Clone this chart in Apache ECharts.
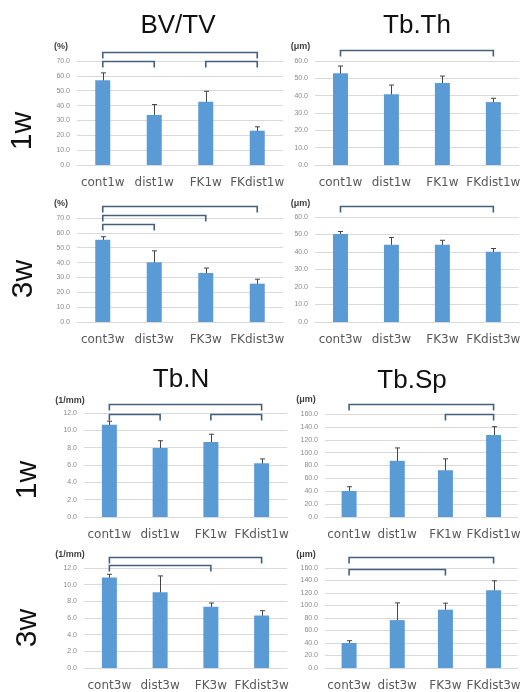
<!DOCTYPE html>
<html><head><meta charset="utf-8">
<script src="https://cdn.jsdelivr.net/npm/echarts@6/dist/echarts.min.js"></script>
<style>html,body{margin:0;padding:0;background:#fff}#c{width:523px;height:692px}</style>
</head><body><div id="c"></div>
<script>
// ---- data ----
const cats1w = ['cont1w', 'dist1w', 'FK1w', 'FKdist1w'];
const cats3w = ['cont3w', 'dist3w', 'FK3w', 'FKdist3w'];

const bvtv1wMean = [57.0, 33.7, 42.6, 23.1];
const bvtv1wErr  = [5.0, 7.0, 7.0, 2.6];
const bvtv3wMean = [55.4, 40.2, 33.0, 25.8];
const bvtv3wErr  = [2.0, 7.7, 3.3, 3.0];
const tbth1wMean = [52.9, 40.8, 47.3, 36.3];
const tbth1wErr  = [4.2, 5.3, 4.0, 2.2];
const tbth3wMean = [50.3, 44.2, 44.2, 40.1];
const tbth3wErr  = [1.4, 4.1, 2.5, 1.9];
const tbn1wMean  = [10.65, 7.95, 8.65, 6.2];
const tbn1wErr   = [0.4, 0.85, 0.9, 0.5];
const tbn3wMean  = [10.85, 9.1, 7.35, 6.3];
const tbn3wErr   = [0.4, 1.95, 0.45, 0.58];
const tbsp1wMean = [40.5, 87.3, 72.7, 127.3];
const tbsp1wErr  = [6.5, 20.0, 17.6, 13.0];
const tbsp3wMean = [40.1, 76.6, 93.3, 124.5];
const tbsp3wErr  = [3.6, 27.6, 10.4, 15.0];

// y axis ranges: [min, max, interval]
const bvtvAxis = [0, 70, 10];
const tbthAxis = [0, 60, 10];
const tbnAxis  = [0, 12, 2];
const tbspAxis = [0, 160, 20];

const bvtvUnit = '(%)';
const tbthUnit = '(μm)';
const tbnUnit  = '(1/mm)';
const tbspUnit = '(μm)';

// significance brackets: [fromIndex, toIndex, level]
const bvtv1wBrackets = [[0, 1, 0], [2, 3, 0], [0, 3, 1]];
const tbth1wBrackets = [[0, 3, 0]];
const bvtv3wBrackets = [[0, 1, 0], [0, 2, 1], [0, 3, 2]];
const tbth3wBrackets = [[0, 3, 0]];
const tbn1wBrackets  = [[0, 1, 0], [2, 3, 0], [0, 3, 1]];
const tbsp1wBrackets = [[2, 3, 0], [0, 3, 1]];
const tbn3wBrackets  = [[0, 2, 0], [0, 3, 1]];
const tbsp3wBrackets = [[0, 2, 0], [0, 3, 1]];

const panelTitles = ['BV/TV', 'Tb.Th', 'Tb.N', 'Tb.Sp'];
const rowLabels = ['1w', '3w', '1w', '3w'];

// ---- layout (style only) ----
const panels = [
  {cats: cats1w, mean: bvtv1wMean, err: bvtv1wErr, axis: bvtvAxis, unit: bvtvUnit, br: bvtv1wBrackets,
   left: 77, top: 61, width: 206, height: 104, bBase: 0, bStep: 9, unitShift: 32, unitGap: 10},
  {cats: cats1w, mean: tbth1wMean, err: tbth1wErr, axis: tbthAxis, unit: tbthUnit, br: tbth1wBrackets,
   left: 315, top: 61, width: 207, height: 104, bBase: -11, bStep: 9, unitShift: 29, unitGap: 10},
  {cats: cats3w, mean: bvtv3wMean, err: bvtv3wErr, axis: bvtvAxis, unit: bvtvUnit, br: bvtv3wBrackets,
   left: 77, top: 218, width: 206, height: 104, bBase: 6, bStep: 9, unitShift: 32, unitGap: 10},
  {cats: cats3w, mean: tbth3wMean, err: tbth3wErr, axis: tbthAxis, unit: tbthUnit, br: tbth3wBrackets,
   left: 315, top: 217, width: 207, height: 105, bBase: -11, bStep: 9, unitShift: 29, unitGap: 9},
  {cats: cats1w, mean: tbn1wMean, err: tbn1wErr, axis: tbnAxis, unit: tbnUnit, br: tbn1wBrackets,
   left: 84, top: 413, width: 203, height: 104, bBase: 1, bStep: 10, unitShift: 28, unitGap: 8},
  {cats: cats1w, mean: tbsp1wMean, err: tbsp1wErr, axis: tbspAxis, unit: tbspUnit, br: tbsp1wBrackets,
   left: 325, top: 414, width: 198, height: 103, bBase: 0, bStep: 10, unitShift: 38, unitGap: 10},
  {cats: cats3w, mean: tbn3wMean, err: tbn3wErr, axis: tbnAxis, unit: tbnUnit, br: tbn3wBrackets,
   left: 84, top: 568, width: 203, height: 103, bBase: -3, bStep: 8, unitShift: 28, unitGap: 9},
  {cats: cats3w, mean: tbsp3wMean, err: tbsp3wErr, axis: tbspAxis, unit: tbspUnit, br: tbsp3wBrackets,
   left: 325, top: 568, width: 198, height: 103, bBase: 1, bStep: 12, unitShift: 38, unitGap: 9}
];

const BAR = '#5B9BD5';
const GRIDLINE = '#d9d9d9';
const BRACKET = '#44607c';

const grid = [], xAxis = [], yAxis = [], series = [];
panels.forEach((p, i) => {
  grid.push({left: p.left, top: p.top, width: p.width, height: p.height, containLabel: false});
  xAxis.push({
    type: 'category', gridIndex: i, data: p.cats,
    axisLine: {lineStyle: {color: GRIDLINE}}, axisTick: {show: false},
    axisLabel: {fontSize: 12, color: '#595959', margin: 12, fontFamily: 'DejaVu Sans', interval: 0}
  });
  yAxis.push({
    type: 'value', gridIndex: i, min: p.axis[0], max: p.axis[1], interval: p.axis[2],
    name: p.unit, nameLocation: 'end', nameGap: p.unitGap,
    nameTextStyle: {fontSize: 9, color: '#404040', fontWeight: 'bold', padding: [0, p.unitShift, 0, 0], fontFamily: 'Liberation Sans'},
    axisLine: {show: false}, axisTick: {show: false},
    axisLabel: {fontSize: 7, color: '#8a8a8a', margin: 7, formatter: v => v.toFixed(1), fontFamily: 'Liberation Sans'},
    splitLine: {lineStyle: {color: GRIDLINE, width: 1}}
  });
  series.push({
    type: 'bar', xAxisIndex: i, yAxisIndex: i, data: p.mean, barWidth: 15,
    itemStyle: {color: BAR}, silent: true
  });
  series.push({
    type: 'custom', xAxisIndex: i, yAxisIndex: i, clip: false, silent: true,
    data: p.mean.map((m, k) => [k, m - p.err[k], m + p.err[k]]),
    renderItem: (params, api) => {
      const lo = api.coord([api.value(0), api.value(1)]);
      const hi = api.coord([api.value(0), api.value(2)]);
      const x = Math.round(lo[0]) + 0.5, w = 2.5;
      const st = {stroke: '#444', lineWidth: 1, fill: null};
      return {type: 'group', children: [
        {type: 'line', shape: {x1: x, y1: lo[1], x2: x, y2: hi[1]}, style: st},
        {type: 'line', shape: {x1: x - w, y1: lo[1], x2: x + w, y2: lo[1]}, style: st},
        {type: 'line', shape: {x1: x - w, y1: hi[1], x2: x + w, y2: hi[1]}, style: st}
      ]};
    }
  });
  series.push({
    type: 'custom', xAxisIndex: i, yAxisIndex: i, clip: false, silent: true,
    data: p.br,
    renderItem: (params, api) => {
      const a = api.coord([api.value(0), p.axis[1]]);
      const b = api.coord([api.value(1), p.axis[1]]);
      const y = a[1] + p.bBase - api.value(2) * p.bStep + 0.5;
      return {type: 'polyline',
        shape: {points: [[a[0], y + 6], [a[0], y], [b[0], y], [b[0], y + 6]]},
        style: {stroke: BRACKET, lineWidth: 1.6, fill: null}};
    }
  });
});

const titlePos = [[178, 26], [417, 26], [181, 380], [412, 381]];
const rowPos = [[23, 131], [24, 279], [28, 480], [28, 628]];
const graphic = [];
panelTitles.forEach((t, k) => graphic.push({
  type: 'text', x: titlePos[k][0], y: titlePos[k][1],
  style: {text: t, fill: '#111', font: '26px "Liberation Sans", Arial, sans-serif', textAlign: 'center', textVerticalAlign: 'middle'}
}));
rowLabels.forEach((t, k) => graphic.push({
  type: 'text', x: rowPos[k][0], y: rowPos[k][1], rotation: Math.PI / 2,
  style: {text: t, fill: '#111', font: '30px "Liberation Sans", Arial, sans-serif', textAlign: 'center', textVerticalAlign: 'middle'}
}));

const chart = echarts.init(document.getElementById('c'), null, {renderer: 'canvas'});
chart.setOption({animation: false, grid, xAxis, yAxis, series, graphic});
</script></body></html>
